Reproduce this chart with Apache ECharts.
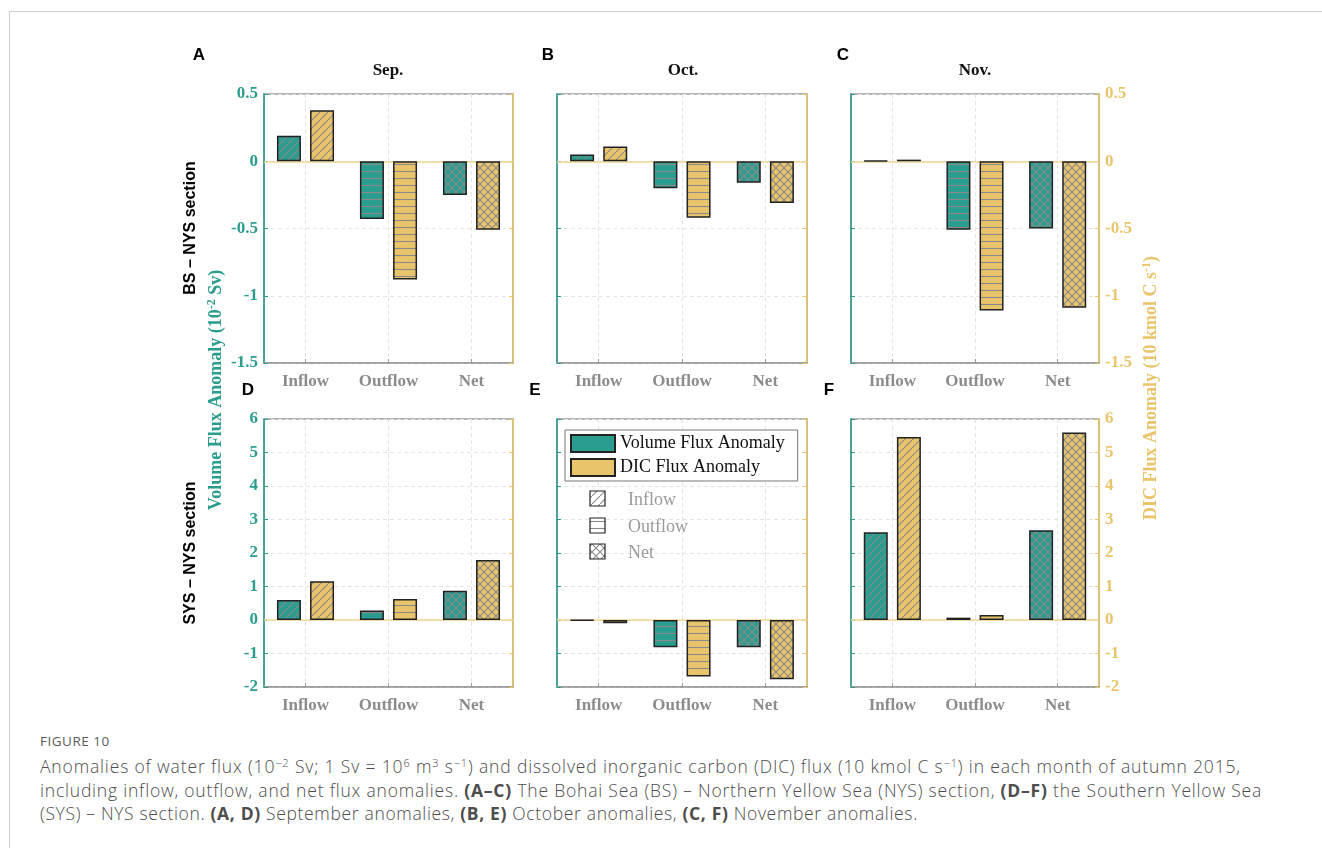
<!DOCTYPE html>
<html>
<head>
<meta charset="utf-8">
<title>Flux anomalies, autumn 2015</title>
<script src="https://cdn.jsdelivr.net/npm/echarts@6/dist/echarts.min.js"></script>
<style>
  html, body { margin: 0; padding: 0; background: #fff; }
  #page { position: relative; width: 1322px; height: 848px; overflow: hidden; background: #fff; }
  #frame { position: absolute; left: 9px; top: 11px; right: -2px; bottom: -2px;
           border-left: 1px solid #cfcfcf; border-top: 1px solid #cfcfcf; }
  #chart { position: absolute; left: 0; top: 0; width: 1322px; height: 725px; }
  #caption { position: absolute; left: 40px; top: 731px; font-family: 'Open Sans', sans-serif;
             color: #555; white-space: nowrap; }
  #caption .fig { font-size: 13.5px; letter-spacing: 0.5px; line-height: 20px; color: #5a5a5a; }
  #caption .body { margin-top: 4px; font-size: 17.5px; line-height: 23.5px; color: #4d4d4d; font-weight: 300; }
  #caption .line { display: block; }
  #caption b { font-weight: 700; }
  #caption sup { font-size: 11px; line-height: 0; position: relative; top: -0.55em; vertical-align: baseline; }
</style>
</head>
<body>
<div id="page">
  <div id="frame"></div>
  <div id="chart"></div>
  <div id="caption">
    <div class="fig">FIGURE 10</div>
    <div class="body">
      <span class="line" data-w="1201">Anomalies of water flux (10<sup>−2</sup> Sv; 1 Sv = 10<sup>6</sup> m<sup>3</sup> s<sup>−1</sup>) and dissolved inorganic carbon (DIC) flux (10 kmol C s<sup>−1</sup>) in each month of autumn 2015,</span>
      <span class="line" data-w="1222">including inflow, outflow, and net flux anomalies. <b>(A–C)</b> The Bohai Sea (BS) – Northern Yellow Sea (NYS) section, <b>(D–F)</b> the Southern Yellow Sea</span>
      <span class="line" data-w="878">(SYS) – NYS section. <b>(A, D)</b> September anomalies, <b>(B, E)</b> October anomalies, <b>(C, F)</b> November anomalies.</span>
    </div>
  </div>
</div>
<script>
// ---- data -------------------------------------------------------------
const categories = ['Inflow', 'Outflow', 'Net'];
const months = ['Sep.', 'Oct.', 'Nov.'];
const panelLetters = ['A', 'B', 'C', 'D', 'E', 'F'];
const rowNames = ['BS – NYS section', 'SYS – NYS section'];

// BS – NYS section: one array per month (Inflow, Outflow, Net)
const bsVolumeSep = [0.19, -0.43, -0.25];
const bsVolumeOct = [0.05, -0.20, -0.16];
const bsVolumeNov = [0.005, -0.51, -0.50];
const bsDicSep = [0.38, -0.88, -0.51];
const bsDicOct = [0.11, -0.42, -0.31];
const bsDicNov = [0.012, -1.11, -1.09];

// SYS – NYS section
const sysVolumeSep = [0.60, 0.28, 0.87];
const sysVolumeOct = [-0.02, -0.81, -0.81];
const sysVolumeNov = [2.62, 0.07, 2.68];
const sysDicSep = [1.16, 0.63, 1.79];
const sysDicOct = [-0.10, -1.69, -1.77];
const sysDicNov = [5.46, 0.15, 5.60];

// value-axis ranges per row: [min, max, interval]
const bsAxis = [-1.5, 0.5, 0.5];
const sysAxis = [-2, 6, 1];

// ---- style ------------------------------------------------------------
const TEAL = '#2a9d8f';
const GOLD = '#e9c46a';
const SERIF = "'Liberation Serif', 'Times New Roman', serif";
const SANS = "'Liberation Sans', Arial, sans-serif";

// hatch tiles: diagonal for inflow, horizontal for outflow, cross-hatch for net
function hatch(bg, kind) {
  const s = kind === 'h' ? 7 : 8;
  const c = document.createElement('canvas');
  c.width = s; c.height = s;
  const g = c.getContext('2d');
  g.fillStyle = bg;
  g.fillRect(0, 0, s, s);
  g.strokeStyle = '#8a8a8a';
  g.lineWidth = 1.1;
  g.beginPath();
  if (kind === 'h') {
    g.moveTo(0, 3.5); g.lineTo(s, 3.5);
  } else {
    g.moveTo(-1, s + 1); g.lineTo(s + 1, -1);
    if (kind === 'x') { g.moveTo(-1, -1); g.lineTo(s + 1, s + 1); }
  }
  g.stroke();
  return { image: c, repeat: 'repeat' };
}
const kinds = ['d', 'h', 'x'];
const tealFill = kinds.map(k => hatch(TEAL, k));
const goldFill = kinds.map(k => hatch(GOLD, k));
const keyFill = kinds.map(k => hatch('#ffffff', k));

// ---- layout -----------------------------------------------------------
const colLeft = [264, 557, 851];
const colWidth = [249, 250, 248];
const rowTop = [94, 419];
const rowHeight = [269, 268];

const panels = [
  { vol: bsVolumeSep, dic: bsDicSep, axis: bsAxis },
  { vol: bsVolumeOct, dic: bsDicOct, axis: bsAxis },
  { vol: bsVolumeNov, dic: bsDicNov, axis: bsAxis },
  { vol: sysVolumeSep, dic: sysDicSep, axis: sysAxis },
  { vol: sysVolumeOct, dic: sysDicOct, axis: sysAxis },
  { vol: sysVolumeNov, dic: sysDicNov, axis: sysAxis }
];

const grid = [], xAxis = [], yAxis = [], series = [];
const dash = { color: '#e4e4e4', type: [4, 3], width: 1 };

panels.forEach((p, i) => {
  const row = Math.floor(i / 3), col = i % 3;
  grid.push({
    left: colLeft[col], top: rowTop[row], width: colWidth[col], height: rowHeight[row],
    show: true, borderColor: '#9a9a9a', borderWidth: 1.5, backgroundColor: 'transparent'
  });
  xAxis.push({
    gridIndex: i, type: 'category', data: categories, position: 'bottom',
    axisLine: { show: true, onZero: false, lineStyle: { color: '#9a9a9a', width: 1.5 } },
    axisTick: { show: true, inside: true, alignWithLabel: true, length: 4, lineStyle: { color: '#9a9a9a' } },
    axisLabel: { color: '#8c8c8c', fontFamily: SERIF, fontWeight: 'bold', fontSize: 17, margin: 10 },
    splitLine: { show: true, alignWithLabel: true, lineStyle: dash }
  });
  const [mn, mx, step] = p.axis;
  const yCommon = { gridIndex: i, type: 'value', min: mn, max: mx, interval: step };
  yAxis.push(Object.assign({}, yCommon, {
    position: 'left',
    axisLine: { show: true, lineStyle: { color: TEAL, width: 1.5 } },
    axisTick: { show: true, inside: true, length: 4, lineStyle: { color: TEAL } },
    axisLabel: { show: col === 0, color: TEAL, fontFamily: SERIF, fontWeight: 'bold', fontSize: 17, margin: 6 },
    splitLine: { show: true, lineStyle: dash }
  }));
  yAxis.push(Object.assign({}, yCommon, {
    position: 'right',
    axisLine: { show: true, lineStyle: { color: GOLD, width: 1.5 } },
    axisTick: { show: true, inside: true, length: 4, lineStyle: { color: GOLD } },
    axisLabel: { show: col === 2, color: GOLD, fontFamily: SERIF, fontWeight: 'bold', fontSize: 17, margin: 6 },
    splitLine: { show: false }
  }));
  series.push({
    type: 'bar', name: 'Volume Flux Anomaly', xAxisIndex: i, yAxisIndex: 2 * i,
    barWidth: 24, barGap: '38%',
    itemStyle: { color: TEAL, borderColor: '#222', borderWidth: 1.5 },
    data: p.vol.map((v, k) => ({ value: v, itemStyle: { color: tealFill[k] } })),
    markLine: {
      silent: true, symbol: 'none', label: { show: false }, z: 1,
      lineStyle: { color: '#f0d592', type: 'solid', width: 1.5 },
      data: [{ yAxis: 0 }]
    },
    z: 3
  });
  series.push({
    type: 'bar', name: 'DIC Flux Anomaly', xAxisIndex: i, yAxisIndex: 2 * i + 1,
    barWidth: 24, barGap: '38%',
    itemStyle: { color: GOLD, borderColor: '#222', borderWidth: 1.5 },
    data: p.dic.map((v, k) => ({ value: v, itemStyle: { color: goldFill[k] } })),
    z: 3
  });
});

// ---- annotations ------------------------------------------------------
const titleCenters = [388, 683, 975];
const letterPos = [[199, 55], [548, 55], [843, 55], [248, 390], [535, 390], [829, 390]];

const graphic = [];
panelLetters.forEach((L, i) => {
  graphic.push({
    type: 'text', x: letterPos[i][0], y: letterPos[i][1], silent: true,
    style: { text: L, fill: '#000', font: `bold 17px ${SANS}`, align: 'center', verticalAlign: 'middle' }
  });
});
rowNames.forEach((t, r) => {
  graphic.push({
    type: 'text', x: 191, y: r === 0 ? 228 : 553, rotation: Math.PI / 2, silent: true,
    style: { text: t, fill: '#000', font: `bold 16px ${SANS}`, align: 'center', verticalAlign: 'middle' }
  });
});
// axis titles shared by both rows
function axisTitle(text, color, x, y) {
  return {
    type: 'text', x, y, rotation: Math.PI / 2, silent: true,
    style: {
      text, align: 'center', verticalAlign: 'middle',
      rich: {
        t: { fill: color, fontFamily: SERIF, fontWeight: 'bold', fontSize: 18, lineHeight: 21 },
        s: { fill: color, fontFamily: SERIF, fontWeight: 'bold', fontSize: 12, lineHeight: 21, verticalAlign: 'top' }
      }
    }
  };
}
graphic.push(axisTitle('{t|Volume Flux Anomaly (10}{s|-2}{t| Sv)}', TEAL, 216, 390));
graphic.push(axisTitle('{t|DIC Flux Anomaly (10 kmol C s}{s|-1}{t|)}', GOLD, 1151, 388));

// hatch key inside panel E
const keyY = [498, 525, 551];
categories.forEach((c, k) => {
  graphic.push({
    type: 'rect', silent: true, z: 100,
    shape: { x: 590, y: keyY[k] - 7, width: 15, height: 15 },
    style: { fill: keyFill[k], stroke: '#222', lineWidth: 1.2 }
  });
  graphic.push({
    type: 'text', x: 628, y: keyY[k] + 2, silent: true, z: 100,
    style: { text: c, fill: '#9a9a9a', font: `18px ${SERIF}`, align: 'left', verticalAlign: 'middle' }
  });
});

const option = {
  animation: false,
  backgroundColor: 'transparent',
  title: months.map((m, i) => ({
    text: m, left: titleCenters[i], top: 62, textAlign: 'center', padding: 0,
    textStyle: { fontFamily: SERIF, fontWeight: 'bold', fontSize: 17, color: '#111' }
  })),
  legend: {
    data: ['Volume Flux Anomaly', 'DIC Flux Anomaly'],
    orient: 'vertical', left: 565, top: 430, selectedMode: false,
    icon: 'rect', itemWidth: 44, itemHeight: 17, itemGap: 5,
    padding: [4, 13, 4, 5], borderColor: '#777', borderWidth: 1, backgroundColor: '#fff',
    textStyle: { fontFamily: SERIF, fontSize: 18, color: '#111' }
  },
  grid, xAxis, yAxis, series, graphic
};

const chart = echarts.init(document.getElementById('chart'), null, { renderer: 'canvas' });
chart.setOption(option);

// spread each caption line across its column width
document.querySelectorAll('#caption .line').forEach(el => {
  el.style.display = 'inline-block';
  const target = +el.dataset.w;
  const w = el.getBoundingClientRect().width;
  const n = el.textContent.length;
  el.style.letterSpacing = ((target - w) / n).toFixed(3) + 'px';
  el.style.display = 'block';
});
</script>
</body>
</html>
